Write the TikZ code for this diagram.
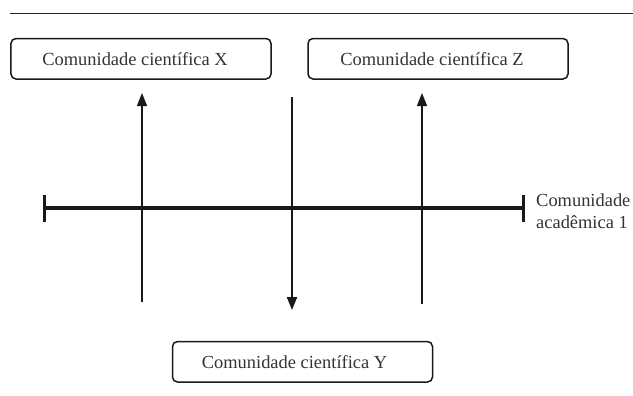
\documentclass[tikz,border=0pt]{standalone}
\usepackage{fontspec}
\setmainfont{Liberation Serif}
\usetikzlibrary{arrows.meta}
\begin{document}
\begin{tikzpicture}[x=1bp,y=-1bp,
  combox/.style={draw=black!90, line width=1.5bp, rounded corners=5bp, minimum height=40.5bp, minimum width=260bp, inner sep=0pt, font=\fontsize{18.5}{20}\selectfont, text=black!80},
  flow/.style={draw=black!90, line width=1.5bp, -{Triangle[length=13bp,width=10bp]}},
  bar/.style={draw=black!90, line width=3.5bp},
  barend/.style={draw=black!90, line width=3bp}]
\useasboundingbox (0,0) rectangle (633,395);
\draw[black!85, line width=1bp] (10,13.5) -- (633,13.5);
\node[combox] (bx) at (141,58.75) {Comunidade científica X\hspace*{12bp}};
\node[combox] (bz) at (438,58.75) {Comunidade científica Z\hspace*{12bp}};
\node[combox] (by) at (302.5,361.75) {Comunidade científica Y\hspace*{16bp}};
% bar
\coordinate (bl) at (44,208);
\coordinate (br) at (523,208);
\draw[bar] (bl) -- (br);
\draw[barend] ([yshift=-14bp]bl) -- ([yshift=13bp]bl);
\draw[barend] ([yshift=-14bp]br) -- ([yshift=13bp]br);
\node[anchor=base west, align=left, inner sep=0pt, font=\fontsize{18.5}{22}\selectfont, text=black!80] (lab) at (536,228) {Comunidade\\acadêmica 1};
% arrows
\coordinate (xa0) at (142,302);
\coordinate (xa1) at (142,93);
\coordinate (za0) at (422,304);
\coordinate (za1) at (422,93);
\coordinate (ya0) at (292,97);
\coordinate (ya1) at (292,310);
\draw[flow] (xa0) -- (xa1);
\draw[flow] (za0) -- (za1);
\draw[flow, line width=2bp] (ya0) -- (ya1);
\end{tikzpicture}
\end{document}
